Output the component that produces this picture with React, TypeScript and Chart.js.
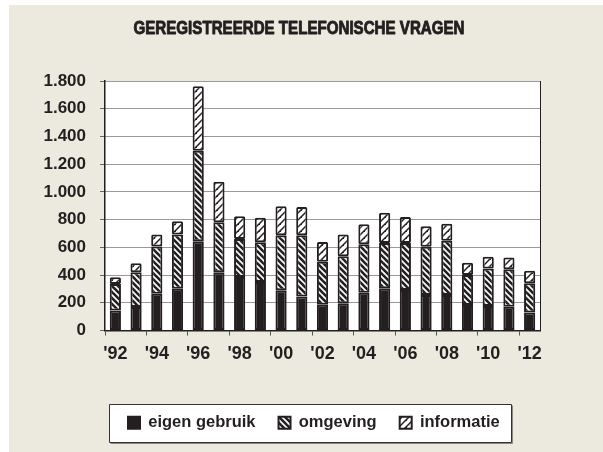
import { useEffect, useRef } from 'react';
import { Chart, registerables } from 'chart.js';

Chart.register(...registerables);

const titleText = 'GEREGISTREERDE TELEFONISCHE VRAGEN';
const categories = ['1992', '1993', '1994', '1995', '1996', '1997', '1998', '1999', '2000', '2001', '2002', '2003', '2004', '2005', '2006', '2007', '2008', '2009', '2010', '2011', '2012'];
const seriesNames = ['eigen gebruik', 'omgeving', 'informatie'];
const eigenGebruik = [145, 170, 266, 302, 644, 421, 386, 350, 290, 245, 185, 196, 273, 304, 292, 256, 256, 184, 177, 172, 130];
const omgeving = [190, 250, 340, 390, 652, 360, 275, 287, 397, 442, 311, 340, 350, 328, 340, 348, 391, 216, 271, 269, 210];
const informatie = [50, 66, 86, 96, 467, 292, 163, 177, 209, 204, 143, 156, 143, 218, 187, 148, 124, 89, 84, 86, 91];
const yTickValues = [0, 200, 400, 600, 800, 1000, 1200, 1400, 1600, 1800];

const INK = '#231f20';
const BEIGE = '#ece9df';
const FONT = '"Liberation Sans", Arial, sans-serif';

function makePattern(kind: 'omg' | 'inf'): CanvasPattern | string {
  const c = document.createElement('canvas');
  const n = kind === 'omg' ? 6 : 7;
  c.width = n;
  c.height = n;
  const g = c.getContext('2d');
  if (!g) return '#fff';
  g.fillStyle = '#fff';
  g.fillRect(0, 0, n, n);
  g.strokeStyle = INK;
  g.lineCap = 'butt';
  if (kind === 'omg') {
    g.lineWidth = 2.6;
    for (const off of [-n, 0, n]) {
      g.beginPath();
      g.moveTo(off - 1, -1);
      g.lineTo(off + n + 1, n + 1);
      g.stroke();
    }
  } else {
    g.lineWidth = 1.5;
    for (const off of [-n, 0, n]) {
      g.beginPath();
      g.moveTo(off - 1, n + 1);
      g.lineTo(off + n + 1, -1);
      g.stroke();
    }
    g.fillStyle = INK;
    g.fillRect(0, 0, 1, 1);
  }
  const p = g.createPattern(c, 'repeat');
  return p || '#fff';
}

function fmtThousands(v: number): string {
  if (v >= 1000) {
    return Math.floor(v / 1000) + '.' + String(v % 1000).padStart(3, '0');
  }
  return String(v);
}

export default function App() {
  const ref = useRef<HTMLCanvasElement>(null);

  useEffect(() => {
    const canvas = ref.current;
    if (!canvas) return;
    const pOmg = makePattern('omg');
    const pInf = makePattern('inf');

    const framePlugin = {
      id: 'frame',
      beforeDraw(chart: any) {
        const c = chart.ctx;
        c.save();
        c.fillStyle = '#fff';
        c.fillRect(0, 0, chart.width, chart.height);
        c.fillStyle = BEIGE;
        c.fillRect(9, 5, chart.width - 9, chart.height - 5);
        const a = chart.chartArea;
        c.fillStyle = '#fff';
        c.fillRect(a.left, a.top, a.right - a.left, a.bottom - a.top);
        // condensed heavy title
        c.fillStyle = INK;
        c.strokeStyle = INK;
        c.lineWidth = 0.9;
        c.lineJoin = 'round';
        c.font = 'bold 18px ' + FONT;
        c.textAlign = 'center';
        c.textBaseline = 'middle';
        c.translate(299, 29.5);
        c.scale(0.84, 1);
        c.fillText(titleText, 0, 0);
        c.strokeText(titleText, 0, 0);
        c.setTransform(1, 0, 0, 1, 0, 0);
        // legend frame
        const lg = chart.legend;
        if (lg && lg.legendHitBoxes && lg.legendHitBoxes.length) {
          const hbs = lg.legendHitBoxes;
          let l = Infinity, r = -Infinity, t = Infinity, b = -Infinity;
          for (const h of hbs) {
            l = Math.min(l, h.left);
            r = Math.max(r, h.left + h.width);
            t = Math.min(t, h.top);
            b = Math.max(b, h.top + h.height);
          }
          const x0 = Math.round(l - 19) + 0.5;
          const x1 = Math.round(r + 11) + 0.5;
          const y0 = Math.round(t - 11) + 0.5;
          const y1 = Math.round(b + 11) + 0.5;
          c.fillStyle = '#fff';
          c.fillRect(x0, y0, x1 - x0, y1 - y0);
          c.strokeStyle = '#333';
          c.lineWidth = 1;
          c.strokeRect(x0, y0, x1 - x0, y1 - y0);
          c.strokeStyle = '#888';
          c.beginPath();
          c.moveTo(x1 + 1, y0 + 1);
          c.lineTo(x1 + 1, y1 + 1);
          c.lineTo(x0 + 1, y1 + 1);
          c.stroke();
        }
        c.restore();
      },
      afterDatasetsDraw(chart: any) {
        const c = chart.ctx;
        const a = chart.chartArea;
        c.save();
        c.strokeStyle = INK;
        c.lineWidth = 1;
        c.beginPath();
        c.moveTo(Math.round(a.right) + 0.5, a.top);
        c.lineTo(Math.round(a.right) + 0.5, a.bottom);
        c.stroke();
        c.restore();
      },
    };

    const common = {
      borderColor: INK,
      borderWidth: 2,
      borderSkipped: false as const,
      borderRadius: 1.5,
      barPercentage: 0.54,
      categoryPercentage: 1,
    };

    const chart = new Chart(canvas, {
      type: 'bar',
      data: {
        labels: categories,
        datasets: [
          { label: seriesNames[0], data: eigenGebruik, backgroundColor: INK, ...common },
          { label: seriesNames[1], data: omgeving, backgroundColor: pOmg as any, ...common },
          { label: seriesNames[2], data: informatie, backgroundColor: pInf as any, ...common },
        ],
      },
      options: {
        responsive: false,
        animation: false,
        devicePixelRatio: 1,
        layout: { padding: { left: 0, right: 5, top: 81, bottom: 11 } },
        plugins: {
          title: { display: false },
          legend: {
            display: true,
            position: 'bottom',
            align: 'start',
            fullSize: false,
            labels: {
              color: INK,
              font: { family: FONT, size: 16.5, weight: 'bold' },
              boxWidth: 12,
              boxHeight: 12,
              padding: 23,
            },
          },
          tooltip: { enabled: false },
        },
        scales: {
          x: {
            stacked: true,
            offset: true,
            afterFit(s: any) {
              s.height = 61;
            },
            grid: {
              display: true,
              drawOnChartArea: false,
              offset: true,
              tickLength: 5,
              lineWidth: 1,
              color: (ctx: any) => (ctx.index !== undefined && ctx.index % 2 === 0 ? '#555' : 'rgba(0,0,0,0)'),
              tickColor: (ctx: any) => (ctx.index !== undefined && ctx.index % 2 === 0 ? '#555' : 'rgba(0,0,0,0)'),
            },
            border: { display: true, color: INK, width: 1.5 },
            ticks: {
              autoSkip: false,
              maxRotation: 0,
              minRotation: 0,
              padding: 8,
              color: INK,
              font: { family: FONT, size: 18, weight: 'bold' },
              callback: (_v: any, i: number) => (i % 2 === 0 ? "'" + categories[i].slice(2) : ''),
            },
          },
          y: {
            stacked: true,
            min: 0,
            max: yTickValues[yTickValues.length - 1],
            afterBuildTicks(s: any) {
              s.ticks = yTickValues.map((v) => ({ value: v }));
            },
            afterFit(s: any) {
              s.width = 105;
            },
            grid: {
              color: '#333',
              lineWidth: 1,
              tickLength: 5,
              tickColor: '#666',
              tickBorderDash: [],
            },
            border: { display: true, color: INK, width: 1.5, dash: [1, 1] },
            ticks: {
              autoSkip: false,
              padding: 14,
              color: INK,
              font: { family: FONT, size: 17, weight: 'bold' },
              callback: (v: any) => fmtThousands(Number(v)),
            },
          },
          y2: {
            type: 'linear',
            position: 'right',
            display: true,
            afterFit(s: any) {
              s.width = 58;
            },
            grid: { display: false },
            border: { display: false },
            ticks: { display: false },
          },
        },
      },
      plugins: [framePlugin],
    });

    return () => chart.destroy();
  }, []);

  return (
    <div style={{ position: 'absolute', left: 0, top: 0, width: 603, height: 452 }}>
      <canvas ref={ref} width={603} height={452} style={{ display: 'block', width: 603, height: 452 }} />
    </div>
  );
}
